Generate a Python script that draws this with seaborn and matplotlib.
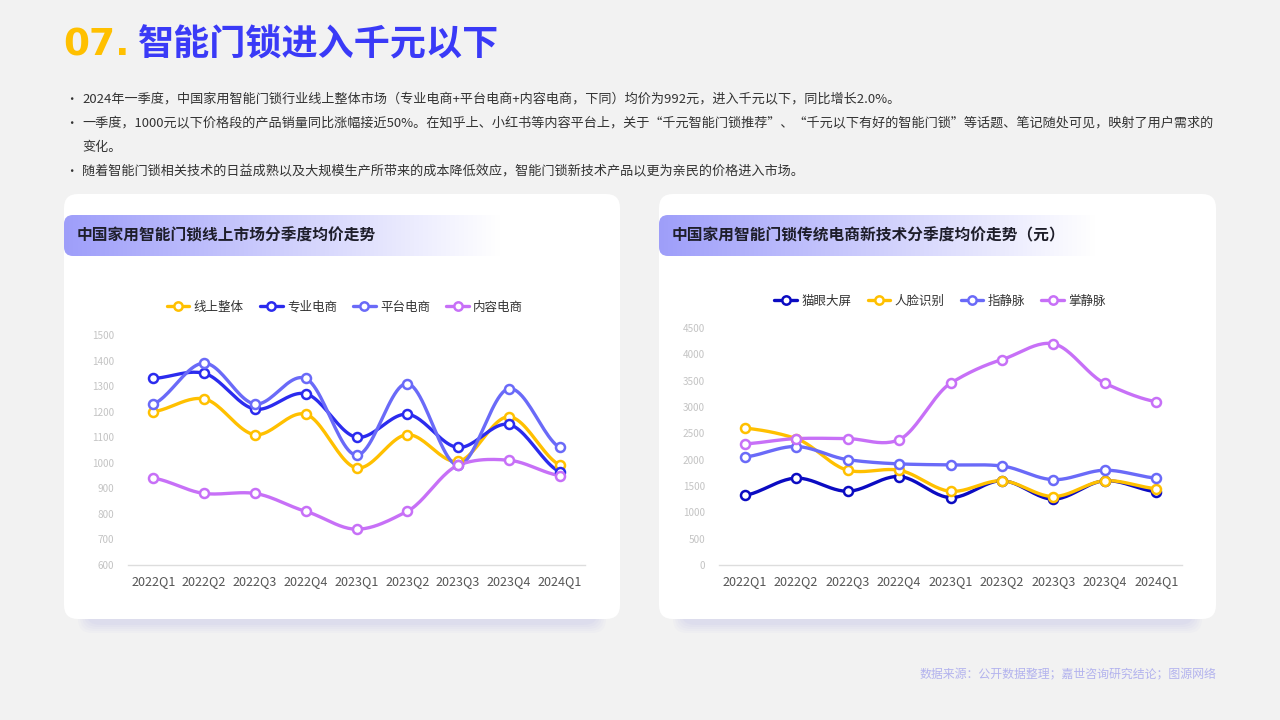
import numpy as np
import pandas as pd
import seaborn as sns
import matplotlib.pyplot as plt
from matplotlib.patches import FancyBboxPatch
from matplotlib.lines import Line2D

# ---------------- data ----------------
quarters = ['2022Q1', '2022Q2', '2022Q3', '2022Q4', '2023Q1', '2023Q2', '2023Q3', '2023Q4', '2024Q1']

left_names = ['线上整体', '专业电商', '平台电商', '内容电商']
online_total = [1200, 1250, 1110, 1190, 980, 1110, 1005, 1180, 992]
pro_ecom = [1330, 1350, 1210, 1270, 1100, 1190, 1060, 1150, 965]
platform_ecom = [1230, 1390, 1230, 1330, 1030, 1310, 990, 1290, 1060]
content_ecom = [940, 880, 880, 810, 740, 810, 990, 1010, 950]

right_names = ['猫眼大屏', '人脸识别', '指静脉', '掌静脉']
peephole = [1320, 1650, 1400, 1680, 1280, 1600, 1250, 1600, 1390]
face_id = [2600, 2400, 1800, 1800, 1400, 1600, 1300, 1600, 1450]
finger_vein = [2050, 2250, 2000, 1920, 1900, 1880, 1620, 1800, 1650]
palm_vein = [2300, 2400, 2400, 2380, 3450, 3900, 4200, 3450, 3100]

left_ticks = [600, 700, 800, 900, 1000, 1100, 1200, 1300, 1400, 1500]
right_ticks = [0, 500, 1000, 1500, 2000, 2500, 3000, 3500, 4000, 4500]

title_num = '07.'
title_text = '智能门锁进入千元以下'
bullets = [
    '2024年一季度，中国家用智能门锁行业线上整体市场（专业电商+平台电商+内容电商，下同）均价为992元，进入千元以下，同比增长2.0%。',
    '一季度，1000元以下价格段的产品销量同比涨幅接近50%。在知乎上、小红书等内容平台上，关于“千元智能门锁推荐”、“千元以下有好的智能门锁”等话题、笔记随处可见，映射了用户需求的',
    '变化。',
    '随着智能门锁相关技术的日益成熟以及大规模生产所带来的成本降低效应，智能门锁新技术产品以更为亲民的价格进入市场。',
]
left_title = '中国家用智能门锁线上市场分季度均价走势'
right_title = '中国家用智能门锁传统电商新技术分季度均价走势（元）'
source = '数据来源：公开数据整理；嘉世咨询研究结论；图源网络'

left_colors = ['#FFC000', '#2B2BEE', '#6A6AF8', '#C770F7']
right_colors = ['#0B0BC2', '#FFC000', '#6A6AF8', '#C770F7']

# ---------------- style ----------------
sns.set_theme(style='white')
plt.rcParams['font.family'] = ['Noto Sans CJK SC', 'DejaVu Sans']

fig = plt.figure(figsize=(12.8, 7.2), dpi=100)
fig.patch.set_facecolor('#f2f2f2')
bg = fig.add_axes([0, 0, 1, 1])
bg.set_xlim(0, 1280)
bg.set_ylim(720, 0)
bg.axis('off')
bg.set_facecolor('none')

# title
bg.text(63, 45, title_num, color='#FFC000', fontsize=27, fontweight='bold',
        va='center', ha='left', family=['DejaVu Sans'])
bg.text(138, 45, title_text, color='#3A3AF7', fontsize=26, fontweight='bold',
        va='center', ha='left')

# bullets
ys = [100, 123, 147, 172]
for i, (t, y) in enumerate(zip(bullets, ys)):
    if i != 2:
        bg.text(65, y, '•', fontsize=9, color='#333333', va='center', ha='left')
    bg.text(82, y, t, fontsize=9.45, color='#333333', va='center', ha='left')

# cards
def card(x0, x1, y0, y1, header_text, header_w):
    # shadow
    for k, a in enumerate([0.06, 0.06, 0.07, 0.08, 0.09]):
        off = 14 - k * 2
        sh = FancyBboxPatch((x0 + 14 + k * 2, y0 + 20), (x1 - x0) - 28 - k * 4, (y1 - y0) - 20 + off,
                            boxstyle='round,pad=0,rounding_size=14', fc='#b4b4e6', ec='none',
                            alpha=a, zorder=1)
        bg.add_patch(sh)
    p = FancyBboxPatch((x0, y0), x1 - x0, y1 - y0, boxstyle='round,pad=0,rounding_size=14',
                       fc='white', ec='none', zorder=2)
    bg.add_patch(p)
    # header gradient
    hx0, hy0, hh = x0, y0 + 21, 41
    clip = FancyBboxPatch((hx0, hy0), header_w, hh, boxstyle='round,pad=0,rounding_size=9',
                          fc='none', ec='none', zorder=3)
    bg.add_patch(clip)
    grad = np.linspace(0, 1, 256)
    c0 = np.array([0.62, 0.62, 0.98])
    c1 = np.array([1.0, 1.0, 1.0])
    g = np.clip(grad * 1.1, 0, 1)
    img = (c0[None, :] * (1 - g[:, None]) + c1[None, :] * g[:, None])[None, :, :]
    im = bg.imshow(img, extent=(hx0, hx0 + header_w, hy0 + hh, hy0), aspect='auto', zorder=3,
                   interpolation='bilinear')
    im.set_clip_path(clip)
    bg.text(x0 + 13, hy0 + hh / 2, header_text, fontsize=11.3, fontweight='bold',
            color='#1e1e2a', va='center', ha='left', zorder=4)

card(64, 620, 194, 619, left_title, 480)
card(659, 1216, 194, 619, right_title, 480)
bg.set_xlim(0, 1280)
bg.set_ylim(720, 0)

bg.text(1216, 675, source, color='#b3b3ee', fontsize=8.6, ha='right', va='center')


# smoothing helper (rendering only)
def smooth(yv, n=24, k=0.8):
    yv = np.asarray(yv, float)
    m = len(yv)
    tang = np.zeros(m)
    for i in range(m):
        if i == 0:
            tang[i] = (yv[1] - yv[0]) * 0.5
        elif i == m - 1:
            tang[i] = (yv[-1] - yv[-2]) * 0.5
        else:
            tang[i] = (yv[i + 1] - yv[i - 1]) / 2 * k
    xs, out = [], []
    for i in range(m - 1):
        t = np.linspace(0, 1, n, endpoint=(i == m - 2))
        h00 = 2 * t**3 - 3 * t**2 + 1
        h10 = t**3 - 2 * t**2 + t
        h01 = -2 * t**3 + 3 * t**2
        h11 = t**3 - t**2
        out.append(h00 * yv[i] + h10 * tang[i] + h01 * yv[i + 1] + h11 * tang[i + 1])
        xs.append(i + t)
    return np.concatenate(xs), np.concatenate(out)


def draw_chart(rect, names, series, colors, ticks, legend_xy):
    ax = fig.add_axes(rect)
    ax.set_facecolor('none')
    rows = []
    for name, s in zip(names, series):
        xs, yy = smooth(s)
        rows.append(pd.DataFrame({'x': xs, 'y': yy, 'name': name}))
    dense = pd.concat(rows, ignore_index=True)
    pts = pd.concat([pd.DataFrame({'x': np.arange(len(quarters)), 'y': s, 'name': n})
                     for n, s in zip(names, series)], ignore_index=True)
    pal = dict(zip(names, colors))
    sns.lineplot(data=dense, x='x', y='y', hue='name', palette=pal, ax=ax, linewidth=2.4,
                 legend=False, sort=False, estimator=None, zorder=3)
    for n in names:
        sub = pts[pts['name'] == n]
        ax.scatter(sub['x'], sub['y'], s=42, facecolor='white', edgecolor=pal[n],
                   linewidth=1.8, zorder=4)
    ax.set_xlim(-0.5, len(quarters) - 0.5)
    ax.set_ylim(ticks[0], ticks[-1])
    ax.set_xticks(range(len(quarters)))
    ax.set_xticklabels(quarters, fontsize=9.1, color='#555555')
    ax.set_yticks(ticks)
    ax.set_yticklabels([str(t) for t in ticks], fontsize=7.2, color='#c4c4c4')
    ax.set_xlabel('')
    ax.set_ylabel('')
    for sp in ['top', 'right', 'left']:
        ax.spines[sp].set_visible(False)
    ax.spines['bottom'].set_color('#dddddd')
    ax.spines['bottom'].set_linewidth(1)
    ax.tick_params(axis='x', length=0, pad=7)
    ax.tick_params(axis='y', length=0, pad=10)
    ax.grid(False)
    ax.set_zorder(5)
    handles = [Line2D([0], [0], color=c, lw=2.4, marker='o', markersize=6,
                      markerfacecolor='white', markeredgecolor=c, markeredgewidth=1.8)
               for c in colors]
    fig.legend(handles, names, loc='center', bbox_to_anchor=legend_xy, ncol=4, frameon=False,
               fontsize=9, handlelength=1.8, handletextpad=0.35, columnspacing=1.3,
               labelcolor='#333333')
    return ax


draw_chart([128 / 1280, 1 - 565 / 720, 457 / 1280, 230 / 720], left_names,
           [online_total, pro_ecom, platform_ecom, content_ecom], left_colors, left_ticks,
           (345 / 1280, 1 - 307 / 720))
draw_chart([719 / 1280, 1 - 565 / 720, 463 / 1280, 237 / 720], right_names,
           [peephole, face_id, finger_vein, palm_vein], right_colors, right_ticks,
           (940 / 1280, 1 - 301 / 720))

fig.savefig('out.png', dpi=100, facecolor=fig.get_facecolor())
